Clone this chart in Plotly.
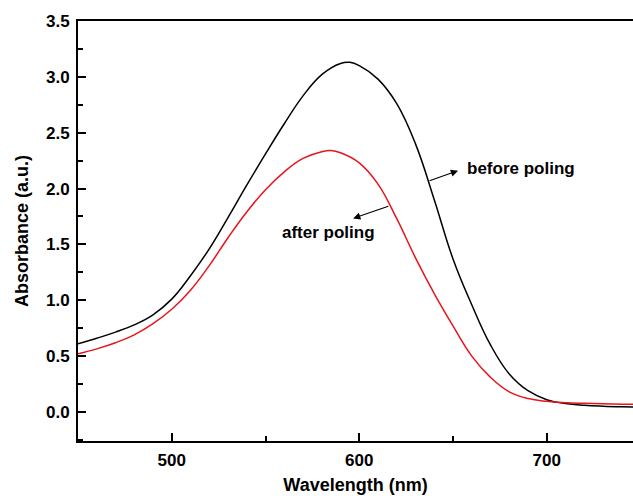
import plotly.graph_objects as go

wavelength = [450, 460, 470, 480, 490, 500, 510, 520, 530, 540, 550, 560, 570, 580, 590, 595,
              600, 610, 620, 630, 640, 650, 660, 670, 680, 690, 700, 710, 720, 730, 740, 750]
before_poling = [0.61, 0.66, 0.715, 0.78, 0.87, 1.01, 1.22, 1.46, 1.74, 2.03, 2.31, 2.58, 2.83, 3.02, 3.12, 3.13,
                 3.10, 2.98, 2.76, 2.40, 1.90, 1.37, 0.96, 0.60, 0.34, 0.19, 0.11, 0.075, 0.06, 0.052, 0.047, 0.044]
wavelength_after = [450, 460, 470, 480, 490, 500, 510, 520, 530, 540, 550, 560, 570, 580, 585, 590,
                    600, 610, 620, 630, 640, 650, 660, 670, 680, 690, 700, 710, 720, 730, 740, 750]
after_poling = [0.52, 0.565, 0.62, 0.69, 0.79, 0.92, 1.09, 1.31, 1.56, 1.79, 1.99, 2.15, 2.27, 2.33, 2.34, 2.32,
                2.23, 2.04, 1.73, 1.38, 1.06, 0.77, 0.50, 0.31, 0.18, 0.12, 0.095, 0.083, 0.077, 0.073, 0.07, 0.068]

x_ticks = [500, 600, 700]
y_ticks = [0.0, 0.5, 1.0, 1.5, 2.0, 2.5, 3.0, 3.5]

FONT = "Liberation Sans, Arial, sans-serif"

fig = go.Figure()
fig.add_trace(go.Scatter(x=wavelength, y=before_poling, mode="lines",
                         line=dict(color="black", width=1.5, shape="spline", smoothing=1.2),
                         name="before poling", showlegend=False))
fig.add_trace(go.Scatter(x=wavelength_after, y=after_poling, mode="lines",
                         line=dict(color="#e8141c", width=1.5, shape="spline", smoothing=1.2),
                         name="after poling", showlegend=False))

# text labels
fig.add_annotation(x=656.3, y=2.18, text="<b>before poling</b>", showarrow=False,
                   xanchor="left", yanchor="middle", font=dict(family=FONT, size=17, color="black"))
fig.add_annotation(x=557.7, y=1.61, text="<b>after poling</b>", showarrow=False,
                   xanchor="left", yanchor="middle", font=dict(family=FONT, size=17, color="black"))
# arrows
fig.add_annotation(x=652.7, y=2.16, ax=636.7, ay=2.065, axref="x", ayref="y", text="",
                   showarrow=True, arrowhead=2, arrowsize=1.2, arrowwidth=1.2, arrowcolor="black")
fig.add_annotation(x=596.75, y=1.733, ax=616.3, ay=1.846, axref="x", ayref="y", text="",
                   showarrow=True, arrowhead=2, arrowsize=1.2, arrowwidth=1.2, arrowcolor="black")

fig.update_layout(
    width=633, height=496,
    margin=dict(l=78, r=0, t=21, b=55),
    plot_bgcolor="white", paper_bgcolor="white",
    font=dict(family=FONT, color="black"),
)
fig.update_xaxes(
    automargin=False,
    range=[450, 746], showline=True, linecolor="black", linewidth=2, mirror=True,
    showgrid=False, zeroline=False,
    tickmode="array", tickvals=x_ticks, ticktext=[f"<b>{v}</b>" for v in x_ticks],
    ticks="inside", ticklen=8, tickwidth=1.5, tickcolor="black",
    minor=dict(ticks="inside", ticklen=5, tickwidth=1.5, tickcolor="black", dtick=50, tick0=450, showgrid=False),
    tickfont=dict(family=FONT, size=17), ticklabelstandoff=3,
    title=dict(text="<b>Wavelength (nm)</b>", font=dict(family=FONT, size=18), standoff=9),
)
fig.update_yaxes(
    automargin=False,
    range=[-0.26, 3.5], showline=True, linecolor="black", linewidth=2, mirror=False,
    showgrid=False, zeroline=False,
    tickmode="array", tickvals=y_ticks, ticktext=[f"<b>{v:.1f}</b>" for v in y_ticks],
    ticks="inside", ticklen=8, tickwidth=1.5, tickcolor="black",
    minor=dict(ticks="inside", ticklen=5, tickwidth=1.5, tickcolor="black", dtick=0.25, tick0=0, showgrid=False),
    tickfont=dict(family=FONT, size=17), ticklabelstandoff=3,
    title=dict(text="<b>Absorbance (a.u.)</b>", font=dict(family=FONT, size=18), standoff=13),
)

fig.write_html(
    "out.html",
    config={"displayModeBar": False},
    post_script="document.body.style.margin='0';document.body.style.overflow='hidden';",
)
